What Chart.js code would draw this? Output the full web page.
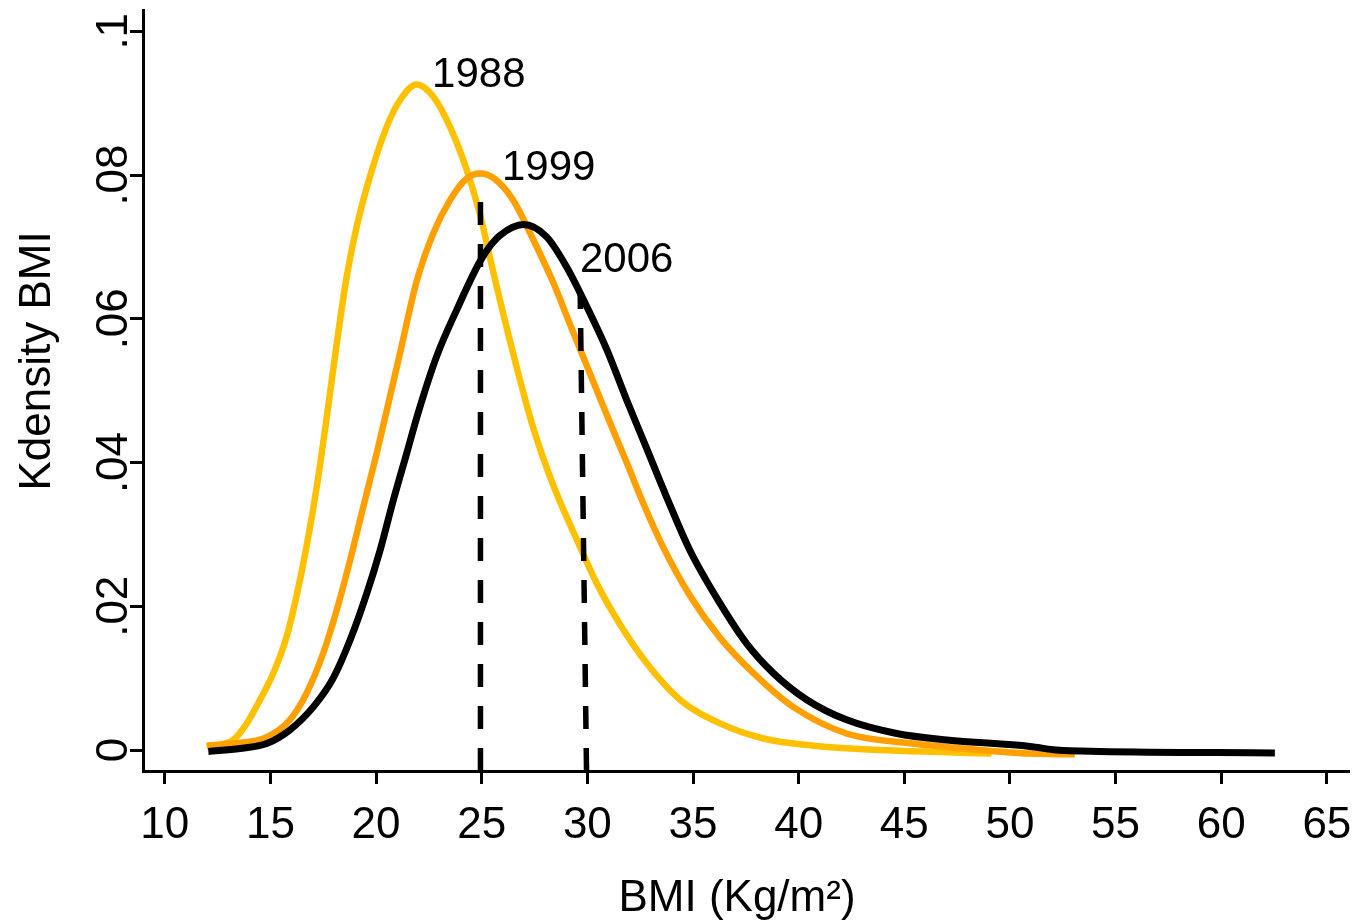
<!DOCTYPE html>
<html lang="en">
<head>
    <meta charset="UTF-8">
    <title>Kdensity BMI</title>
    <style>
        body {
            margin: 0;
            background-color: #fff;
        }

        #wrap {
            width: 1356px;
            height: 924px;
            position: relative;
        }
    </style>
    <script src="https://cdn.jsdelivr.net/npm/chart.js"></script>
</head>
<body>
    <div id="wrap">
        <canvas id="bmiChart"></canvas>
    </div>

    <script>
        // kdensity curves (BMI, density)
        const bmi1988 = [11.98, 13.24, 13.88, 14.51, 15.14, 15.77, 16.24, 16.72, 17.19, 17.66, 18.14, 18.61, 19.08, 19.71, 20.50, 21.13, 21.92, 22.71, 23.50, 24.29, 24.92, 25.39, 25.86, 26.65, 27.44, 28.39, 29.65, 30.44, 31.54, 32.80, 34.38, 36.28, 38.33, 40.69, 43.85, 47.0, 49.13];
        const dens1988 = [0.0005, 0.0014, 0.0037, 0.0070, 0.0107, 0.0158, 0.0215, 0.0285, 0.0366, 0.0462, 0.0566, 0.0659, 0.0728, 0.0798, 0.0867, 0.0904, 0.0926, 0.0909, 0.0867, 0.0807, 0.0745, 0.0685, 0.0626, 0.0533, 0.0448, 0.0368, 0.0283, 0.0232, 0.0175, 0.0121, 0.0070, 0.0037, 0.0016, 0.0006, 0.0000, -0.0003, -0.0005];

        const bmi1999 = [12.0, 13.24, 14.82, 15.92, 16.71, 17.50, 18.14, 18.77, 19.40, 20.03, 20.58, 21.13, 21.92, 22.71, 23.50, 24.29, 24.92, 25.6, 26.49, 27.44, 28.39, 29.18, 29.97, 30.92, 31.86, 32.65, 33.59, 34.85, 36.28, 37.86, 39.74, 42.27, 45.42, 48.58, 50.95, 53.07];
        const dens1999 = [0.0006, 0.0009, 0.0018, 0.0042, 0.0079, 0.0135, 0.0195, 0.0264, 0.0339, 0.0413, 0.0482, 0.0552, 0.0652, 0.0719, 0.0765, 0.0795, 0.0802, 0.0795, 0.0765, 0.0710, 0.0650, 0.0592, 0.0535, 0.0466, 0.0400, 0.0343, 0.0282, 0.0215, 0.0156, 0.0107, 0.0060, 0.0023, 0.0009, 0.0000, -0.0005, -0.0006];

        const bmi2006 = [12.06, 13.56, 14.82, 15.92, 17.03, 17.97, 18.77, 19.56, 20.19, 20.82, 21.45, 22.0, 22.87, 23.81, 24.92, 25.39, 25.86, 26.97, 28.07, 29.02, 29.97, 30.92, 31.86, 32.80, 33.75, 34.85, 36.28, 37.54, 38.80, 40.38, 42.27, 44.64, 47.01, 50.95, 52.2, 54.25, 62.54];
        const dens2006 = [-0.0002, 0.0002, 0.0009, 0.0028, 0.0060, 0.0100, 0.0153, 0.0218, 0.0278, 0.0348, 0.0413, 0.0470, 0.0548, 0.0612, 0.0680, 0.0701, 0.0716, 0.0731, 0.0714, 0.0672, 0.0617, 0.0557, 0.0487, 0.0420, 0.0352, 0.0278, 0.0204, 0.0148, 0.0107, 0.0070, 0.0042, 0.0023, 0.0014, 0.0005, 0.0000, -0.0002, -0.0004];

        // dashed reference lines at BMI 25 and 30 (bottom point, top point)
        const ref25X = [24.94, 24.94];
        const ref25Y = [-0.00292, 0.0788];
        const ref30X = [29.96, 29.66];
        const ref30Y = [-0.00292, 0.0637];

        const xTicks = [10, 15, 20, 25, 30, 35, 40, 45, 50, 55, 60, 65];
        const xTickLabels = ["10", "15", "20", "25", "30", "35", "40", "45", "50", "55", "60", "65"];
        const yTicks = [0, 0.02, 0.04, 0.06, 0.08, 0.1];
        const yTickLabels = ["0", ".02", ".04", ".06", ".08", ".1"];

        const yearLabels = ["1988", "1999", "2006"];
        const yearLabelX = [22.65, 25.96, 29.65];
        const yearLabelY = [0.0922, 0.0793, 0.0665];

        const FONT = "'Liberation Sans', Arial, sans-serif";

        function pares(xs, ys) {
            return xs.map((x, i) => ({ x: x, y: ys[i] }));
        }

        // tick labels, titles and year labels drawn at scale positions
        const textos = {
            id: "textos",
            afterDraw(chart) {
                const ctx = chart.ctx;
                const sx = chart.scales.x;
                const sy = chart.scales.y;
                ctx.save();
                ctx.fillStyle = "#000";
                ctx.textBaseline = "alphabetic";

                ctx.font = "44px " + FONT;
                ctx.textAlign = "center";
                xTicks.forEach((v, i) => {
                    ctx.fillText(xTickLabels[i], sx.getPixelForValue(v), 838);
                });

                yTicks.forEach((v, i) => {
                    ctx.save();
                    ctx.translate(127, sy.getPixelForValue(v));
                    ctx.rotate(-Math.PI / 2);
                    ctx.fillText(yTickLabels[i], 0, 0);
                    ctx.restore();
                });

                ctx.fillText("BMI (Kg/m\u00B2)", 737, 911);

                ctx.save();
                ctx.translate(50, 361);
                ctx.rotate(-Math.PI / 2);
                ctx.fillText("Kdensity BMI", 0, 0);
                ctx.restore();

                ctx.font = "42px " + FONT;
                ctx.textAlign = "left";
                yearLabels.forEach((t, i) => {
                    ctx.fillText(t, sx.getPixelForValue(yearLabelX[i]), sy.getPixelForValue(yearLabelY[i]));
                });
                ctx.restore();
            }
        };

        const ejeComun = {
            type: "linear",
            grid: {
                display: true,
                drawOnChartArea: false,
                drawTicks: true,
                tickLength: 13,
                color: "#000",
                lineWidth: 3
            },
            border: { display: true, color: "#000", width: 3 },
            ticks: { display: false }
        };

        new Chart(document.getElementById("bmiChart"), {
            type: "line",
            data: {
                datasets: [
                    {
                        label: "ref25",
                        data: pares(ref25X, ref25Y),
                        borderColor: "#000",
                        borderWidth: 5.5,
                        borderDash: [23, 19],
                        borderCapStyle: "butt",
                        pointRadius: 0,
                        tension: 0
                    },
                    {
                        label: "ref30",
                        data: pares(ref30X, ref30Y),
                        borderColor: "#000",
                        borderWidth: 5.5,
                        borderDash: [23, 19],
                        borderCapStyle: "butt",
                        pointRadius: 0,
                        tension: 0
                    },
                    {
                        label: "2006",
                        data: pares(bmi2006, dens2006),
                        borderColor: "#000",
                        borderWidth: 7,
                        pointRadius: 0,
                        cubicInterpolationMode: "monotone"
                    },
                    {
                        label: "1999",
                        data: pares(bmi1999, dens1999),
                        borderColor: "#ff9f00",
                        borderWidth: 6.5,
                        pointRadius: 0,
                        cubicInterpolationMode: "monotone"
                    },
                    {
                        label: "1988",
                        data: pares(bmi1988, dens1988),
                        borderColor: "#ffc000",
                        borderWidth: 6.5,
                        pointRadius: 0,
                        cubicInterpolationMode: "monotone"
                    }
                ]
            },
            options: {
                responsive: true,
                maintainAspectRatio: false,
                animation: false,
                layout: {
                    padding: { left: 130, right: 8, top: 10, bottom: 140 }
                },
                plugins: {
                    legend: { display: false },
                    tooltip: { enabled: false }
                },
                scales: {
                    x: Object.assign({}, ejeComun, {
                        min: 8.968,
                        max: 66.0,
                        afterBuildTicks: scale => {
                            scale.ticks = xTicks.map(v => ({ value: v }));
                        }
                    }),
                    y: Object.assign({}, ejeComun, {
                        min: -0.00292,
                        max: 0.10296,
                        afterBuildTicks: scale => {
                            scale.ticks = yTicks.map(v => ({ value: v }));
                        }
                    })
                }
            },
            plugins: [textos]
        });
    </script>
</body>
</html>
